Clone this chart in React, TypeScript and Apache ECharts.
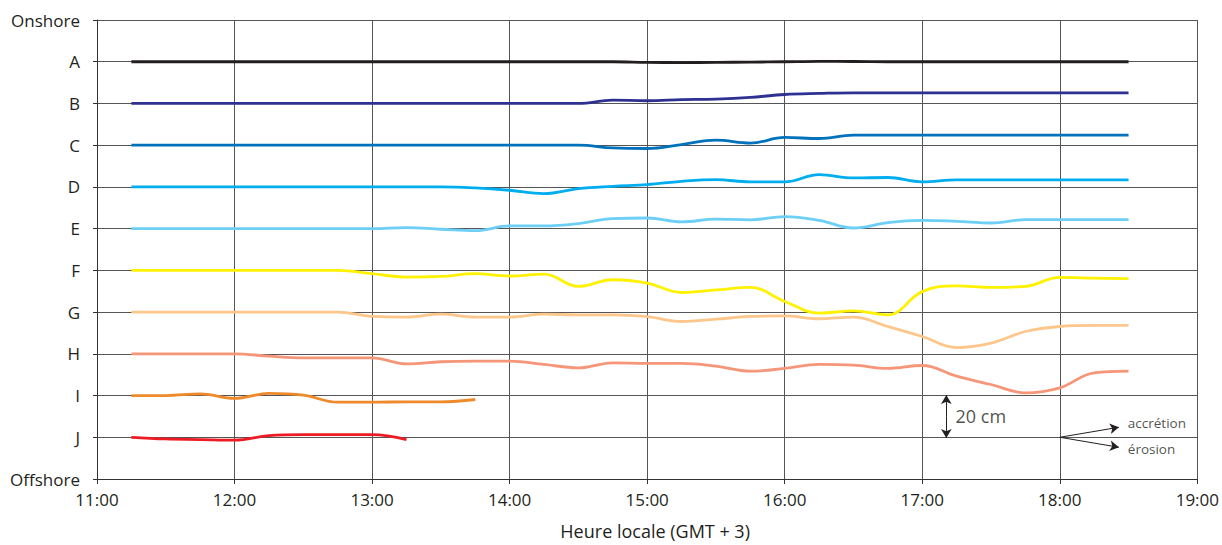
import React, { useEffect, useRef } from "react";
import * as echarts from "echarts";

// Measurement times (decimal hours, local time)
const times = [11.25, 11.5, 11.75, 12, 12.25, 12.5, 12.75, 13, 13.25, 13.5, 13.75, 14, 14.25, 14.5, 14.75, 15, 15.25, 15.5, 15.75, 16, 16.25, 16.5, 16.75, 17, 17.25, 17.5, 17.75, 18, 18.25, 18.5];

// Row labels on the y axis (bottom -> top), 20 cm per row
const yTickLabels = ["Offshore", "J", "I", "H", "G", "F", "E", "D", "C", "B", "A", "Onshore"];

// Profile baselines (cm on the stacked axis)
const baselines = { A: 200, B: 180, C: 160, D: 140, E: 120, F: 100, G: 80, H: 60, I: 40, J: 20 };

// Deviations from baseline (cm)
const devA = [0, 0, 0, 0, 0, 0, 0, 0, 0, 0, 0, 0, 0, 0, 0, -0.3, -0.4, -0.3, -0.2, 0, 0.2, 0.1, 0, 0, 0, 0, 0, 0, 0, 0];
const devB = [0, 0, 0, 0, 0, 0, 0, 0, 0, 0, 0, 0, 0, 0, 1.6, 1.3, 1.8, 2.1, 2.9, 4.3, 4.8, 5.1, 5.1, 5.1, 5.1, 5.1, 5.1, 5.1, 5.1, 5.1];
const devC = [0, 0, 0, 0, 0, 0, 0, 0, 0, 0, 0, 0, 0, 0, -1.3, -1.6, 0.3, 2.4, 1.0, 3.7, 3.2, 4.8, 4.8, 4.8, 4.8, 4.8, 4.8, 4.8, 4.8, 4.8];
const devD = [0, 0, 0, 0, 0, 0, 0, 0, 0, 0, -0.5, -1.6, -3.2, -0.8, 0.3, 1.1, 2.7, 3.5, 2.4, 2.4, 5.9, 4.3, 4.5, 2.4, 3.4, 3.4, 3.4, 3.4, 3.4, 3.4];
const devE = [0, 0, 0, 0, 0, 0, 0, 0, 0.5, -0.3, -1.0, 1.3, 1.3, 2.4, 4.8, 5.1, 3.2, 4.6, 4.2, 5.8, 4.0, 0.3, 2.9, 4.0, 3.5, 2.7, 4.3, 4.3, 4.3, 4.3];
const devF = [0, 0, 0, 0, 0, 0, 0, -1.6, -3.2, -2.9, -1.6, -2.7, -1.8, -7.7, -4.5, -6.1, -10.6, -9.4, -8.2, -14.9, -20.5, -19.4, -21.3, -10.2, -7.4, -8.2, -7.7, -3.4, -3.7, -4.0];
const devG = [0, 0, 0, 0, 0, 0, 0, -2.1, -2.4, -1.0, -2.4, -2.4, -1.0, -1.3, -1.3, -2.2, -4.5, -3.4, -2.1, -1.8, -3.2, -2.4, -6.9, -11.7, -17.0, -14.9, -9.3, -6.9, -6.4, -6.4];
const devH = [0, 0, 0, 0, -1.1, -1.9, -1.9, -1.9, -4.8, -3.8, -3.5, -3.5, -5.1, -6.7, -4.3, -4.6, -4.6, -5.9, -8.3, -7.0, -5.1, -5.4, -7.0, -5.6, -10.7, -14.7, -18.7, -16.3, -9.1, -8.3];
const devI = [0, 0, 0.8, -1.4, 1.0, 0.2, -3.2, -3.2, -3.0, -3.0, -1.9];
const devJ = [0, -0.8, -1.1, -1.4, 0.8, 1.3, 1.3, 1.3, -1.1];

const profiles = [
  { name: "A", dev: devA, color: "#231F20" },
  { name: "B", dev: devB, color: "#2E3192" },
  { name: "C", dev: devC, color: "#0072BC" },
  { name: "D", dev: devD, color: "#00AEEF" },
  { name: "E", dev: devE, color: "#6DCFF6" },
  { name: "F", dev: devF, color: "#FFF200" },
  { name: "G", dev: devG, color: "#FDC68A" },
  { name: "H", dev: devH, color: "#F69679" },
  { name: "I", dev: devI, color: "#EE8A2B" },
  { name: "J", dev: devJ, color: "#ED1C24" },
];

const FONT = "Open Sans";
const INK = "#231F20";

export default function App() {
  const ref = useRef<HTMLDivElement>(null);

  useEffect(() => {
    document.documentElement.style.overflow = "hidden";
    document.body.style.margin = "0";
    document.body.style.overflow = "hidden";
    if (!ref.current) return;
    const chart = echarts.init(ref.current, null, { renderer: "svg" });

    const lineSeries = profiles.map((p) => ({
      name: p.name,
      type: "line",
      smooth: 0.4,
      symbol: "none",
      z: 3,
      lineStyle: { color: p.color, width: 2.8 },
      data: p.dev.map((d, i) => [times[i], (baselines as any)[p.name] + d]),
    }));

    const option = {
      animation: false,
      backgroundColor: "#ffffff",
      textStyle: { fontFamily: FONT },
      grid: { left: 97, right: 24, top: 20, bottom: 63, containLabel: false },
      xAxis: {
        type: "value",
        min: 11,
        max: 19,
        interval: 1,
        name: "Heure locale (GMT + 3)",
        nameLocation: "middle",
        nameGap: 43,
        nameTextStyle: { fontSize: 18, lineHeight: 18, color: INK, fontFamily: FONT, padding: [0, 0, 0, 16] },
        axisLine: { show: true, lineStyle: { color: "#333", width: 1 } },
        axisTick: { show: true, length: 5, lineStyle: { color: "#333" } },
        axisLabel: {
          fontSize: 17,
          color: INK,
          margin: 12,
          fontFamily: FONT,
          formatter: (v: number) => `${v}:00`,
        },
        splitLine: { show: true, lineStyle: { color: "#555", width: 1 } },
      },
      yAxis: {
        type: "value",
        min: 0,
        max: 220,
        interval: 20,
        axisLine: { show: true, lineStyle: { color: "#333", width: 1 } },
        axisTick: { show: true, length: 4, lineStyle: { color: "#333" } },
        axisLabel: {
          fontSize: 17,
          color: INK,
          margin: 17,
          fontFamily: FONT,
          showMinLabel: true,
          showMaxLabel: true,
          formatter: (v: number) => yTickLabels[Math.round(v / 20)] ?? "",
        },
        splitLine: { show: true, lineStyle: { color: "#555", width: 1 } },
      },
      series: [
        ...lineSeries,
        {
          name: "annotations",
          type: "line",
          data: [],
          symbol: "none",
          silent: true,
          markLine: {
            silent: true,
            symbol: ["none", "arrow"],
            symbolSize: [8, 9],
            label: { show: false },
            lineStyle: { color: INK, width: 1, type: "solid" },
            data: [
              [{ coord: [17.175, 30], symbol: "none" }, { coord: [17.175, 40.3] }],
              [{ coord: [17.175, 30], symbol: "none" }, { coord: [17.175, 19.7] }],
              [{ coord: [18, 20], symbol: "none" }, { coord: [18.43, 24.8] }],
              [{ coord: [18, 20], symbol: "none" }, { coord: [18.43, 15.2] }],
            ],
          },
        },
        {
          name: "annotationText",
          type: "scatter",
          symbolSize: 0,
          silent: true,
          z: 5,
          data: [
            { value: [17.22, 30], label: { show: true, position: "right", distance: 3, formatter: "20 cm", fontSize: 18, color: INK, fontFamily: FONT } },
            { value: [18.48, 26.8], label: { show: true, position: "right", distance: 2, formatter: "accrétion", fontSize: 13.5, color: INK, fontFamily: FONT } },
            { value: [18.48, 14.6], label: { show: true, position: "right", distance: 2, formatter: "érosion", fontSize: 13.5, color: INK, fontFamily: FONT } },
          ],
        },
      ],
    };

    chart.setOption(option as any);
    return () => chart.dispose();
  }, []);

  return (
    <div
      ref={ref}
      style={{ position: "fixed", left: 0, top: 0, width: 1222, height: 545, overflow: "hidden" }}
    />
  );
}
